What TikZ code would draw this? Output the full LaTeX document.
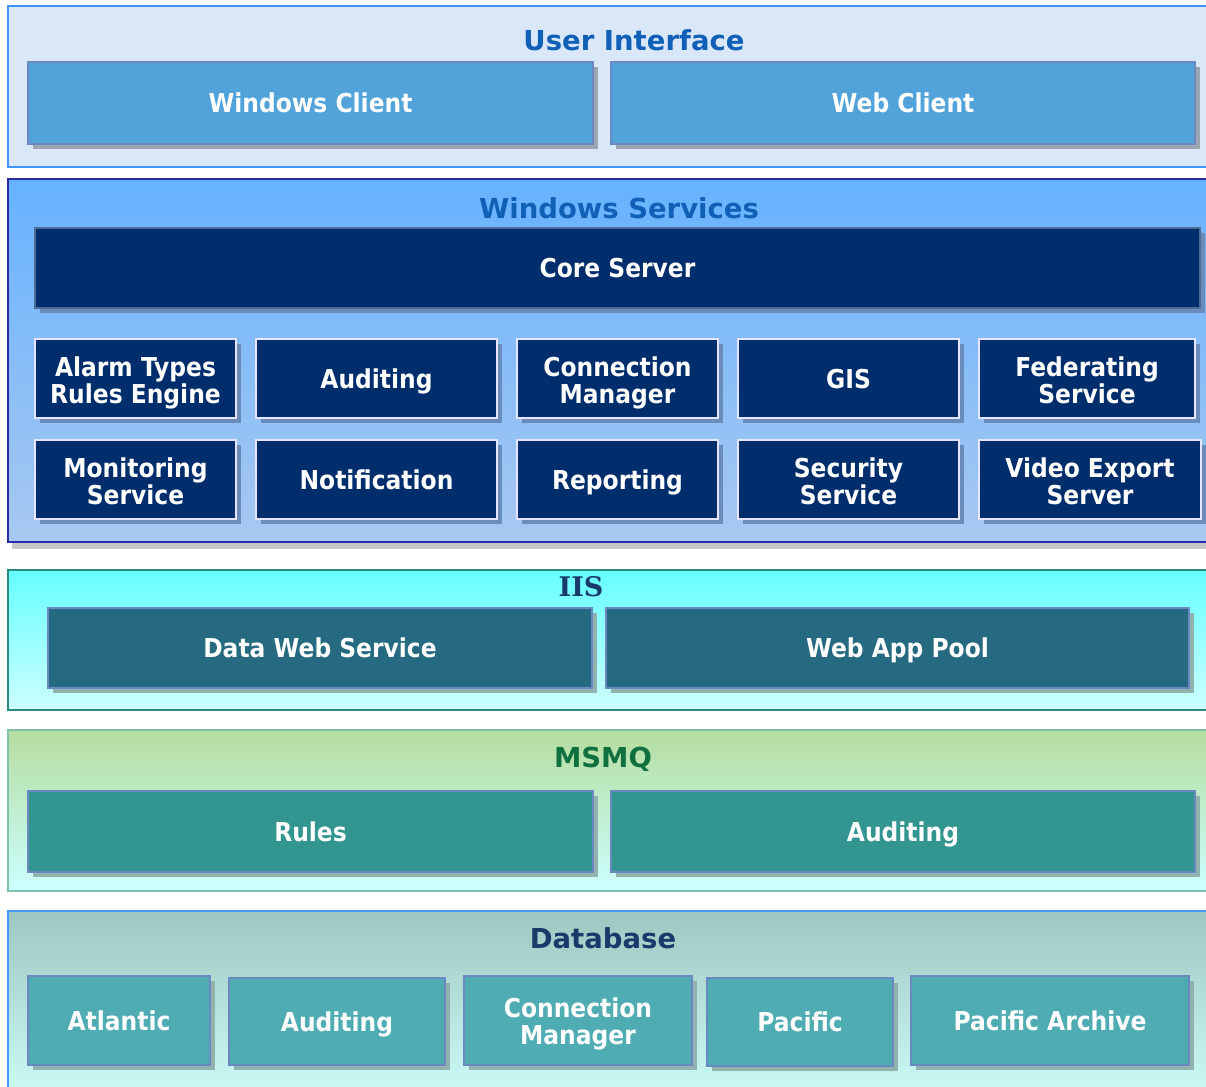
\documentclass[tikz,border=0pt]{standalone}
\usepackage{fontspec}
\setmainfont{DejaVu Sans}
\newfontfamily\boxfont[FakeStretch=0.9]{DejaVu Sans}
\newfontfamily\iisfont{DejaVu Serif}
\usetikzlibrary{shadows}

% layer colours
\definecolor{uiFill}{HTML}{D9E7F9}
\definecolor{uiLine}{HTML}{3F95FF}
\definecolor{uiBox}{HTML}{52A3D9}
\definecolor{uiShade}{HTML}{9CA5B2}
\definecolor{wsLine}{HTML}{2B2BA8}
\definecolor{wsTop}{HTML}{66B2FF}
\definecolor{wsBot}{HTML}{A8C8F0}
\definecolor{wsBox}{HTML}{002D6B}
\definecolor{wsShade}{HTML}{6A8CBA}
\definecolor{iisLine}{HTML}{2A8A80}
\definecolor{iisTop}{HTML}{66FFFF}
\definecolor{iisBot}{HTML}{CCFFFF}
\definecolor{iisBox}{HTML}{256A80}
\definecolor{mqLine}{HTML}{80C0A8}
\definecolor{mqTop}{HTML}{B5DD9F}
\definecolor{mqBot}{HTML}{CCFFFF}
\definecolor{mqBox}{HTML}{33958F}
\definecolor{dbLine}{HTML}{4499FF}
\definecolor{dbTop}{HTML}{9EC7C0}
\definecolor{dbBot}{HTML}{CCFCF9}
\definecolor{dbBox}{HTML}{4FACB3}
\definecolor{tealShade}{HTML}{92B2B0}
\definecolor{boxEdge}{HTML}{6B88C0}
\definecolor{titleBlue}{HTML}{1060B8}
\definecolor{titleGreen}{HTML}{107040}
\definecolor{titleNavy}{HTML}{1A3A6B}

% taller first line for two-line labels, so they sit centred
\newcommand{\lowerfirst}{\rule{0pt}{29pt}}

\tikzset{
  layer/.style={line width=2pt},
  title/.style={font=\bfseries\fontsize{27.5}{30}\selectfont},
  comp/.style={rectangle, draw=boxEdge, line width=1.2pt, text=white,
    align=center, inner sep=2pt,
    font=\boxfont\bfseries\fontsize{26}{27}\selectfont,
    execute at begin node={\rule{0pt}{25pt}},
    execute at end node={\rule[-6pt]{0pt}{6pt}}},
  shd/.style={drop shadow={shadow xshift=5pt, shadow yshift=-5pt,
    opacity=1, fill=#1}},
  uibox/.style={comp, fill=uiBox, shd=uiShade},
  wsbox/.style={comp, fill=wsBox, draw=white!90!blue, line width=2pt,
    shd=wsShade},
  corebox/.style={comp, fill=wsBox, draw=wsBox!70!white, shd=wsShade},
  iisbox/.style={comp, fill=iisBox, shd=tealShade},
  mqbox/.style={comp, fill=mqBox, shd=tealShade},
  dbbox/.style={comp, fill=dbBox, shd=tealShade},
}

\begin{document}
\begin{tikzpicture}[x=1pt, y=-1pt]
\useasboundingbox (0,0) rectangle (1206,1086);
\fill[white] (0,0) rectangle (1206,1086);

% ---- User Interface ----
\draw[layer, draw=uiLine, fill=uiFill] (8,6) rectangle (1215,167);
\node[title, text=titleBlue] (uiT) at (634,40) {User Interface};
\node[uibox, minimum width=565pt, minimum height=82pt] (winc) at (310.5,103) {Windows Client};
\node[uibox, minimum width=584pt, minimum height=82pt] (webc) at (903,103) {Web Client};

% ---- Windows Services ----
\fill[gray!45] (12,542) rectangle (1215,549);
\draw[layer, draw=wsLine, top color=wsTop, bottom color=wsBot] (8,179) rectangle (1215,542);
\node[title, text=titleBlue] (wsT) at (619,208) {Windows Services};
\node[corebox, minimum width=1165pt, minimum height=80pt] (core) at (617.5,268) {Core Server};

\node[wsbox, minimum width=201pt, minimum height=79pt] (alarm) at (135.5,378.5) {\lowerfirst Alarm Types\\Rules Engine};
\node[wsbox, minimum width=241pt, minimum height=79pt] (audS) at (376.5,378.5) {Auditing};
\node[wsbox, minimum width=201pt, minimum height=79pt] (connS) at (617.5,378.5) {\lowerfirst Connection\\Manager};
\node[wsbox, minimum width=221pt, minimum height=79pt] (gis) at (848.5,378.5) {GIS};
\node[wsbox, minimum width=216pt, minimum height=79pt] (fed) at (1087,378.5) {\lowerfirst Federating\\Service};

\node[wsbox, minimum width=201pt, minimum height=79pt] (mon) at (135.5,479.5) {\lowerfirst Monitoring\\Service};
\node[wsbox, minimum width=241pt, minimum height=79pt] (notif) at (376.5,479.5) {Notification};
\node[wsbox, minimum width=201pt, minimum height=79pt] (rep) at (617.5,479.5) {Reporting};
\node[wsbox, minimum width=221pt, minimum height=79pt] (sec) at (848.5,479.5) {\lowerfirst Security\\Service};
\node[wsbox, minimum width=222pt, minimum height=79pt] (vid) at (1090,479.5) {\lowerfirst Video Export\\Server};

% ---- IIS ----
\draw[layer, line width=1.6pt, draw=iisLine, top color=iisTop, bottom color=iisBot] (8,570) rectangle (1215,710);
\node[font=\iisfont\bfseries\fontsize{27}{30}\selectfont, text=titleNavy] (iisT) at (581,587) {IIS};
\node[iisbox, minimum width=544pt, minimum height=80pt] (dws) at (320,648) {Data Web Service};
\node[iisbox, minimum width=583pt, minimum height=80pt] (wap) at (897.5,648) {Web App Pool};

% ---- MSMQ ----
\draw[layer, line width=1.6pt, draw=mqLine, top color=mqTop, bottom color=mqBot] (8,730) rectangle (1215,891);
\node[title, text=titleGreen] (mqT) at (603,759) {MSMQ};
\node[mqbox, minimum width=565pt, minimum height=81pt] (rules) at (310.5,831.5) {Rules};
\node[mqbox, minimum width=584pt, minimum height=81pt] (audQ) at (903,831.5) {Auditing};

% ---- Database ----
\draw[layer, draw=dbLine, top color=dbTop, bottom color=dbBot] (8,911) rectangle (1215,1100);
\node[title, text=titleNavy] (dbT) at (603,938) {Database};
\node[dbbox, minimum width=182pt, minimum height=89pt] (atl) at (119,1020.5) {Atlantic};
\node[dbbox, minimum width=216pt, minimum height=87pt] (audD) at (337,1021.5) {Auditing};
\node[dbbox, minimum width=228pt, minimum height=89pt] (connD) at (578,1020.5) {\rule{0pt}{27pt}Connection\\Manager};
\node[dbbox, minimum width=186pt, minimum height=88pt] (pac) at (800,1022) {Pacific};
\node[dbbox, minimum width=278pt, minimum height=89pt] (arch) at (1050,1020.5) {Pacific Archive};
\end{tikzpicture}
\end{document}
